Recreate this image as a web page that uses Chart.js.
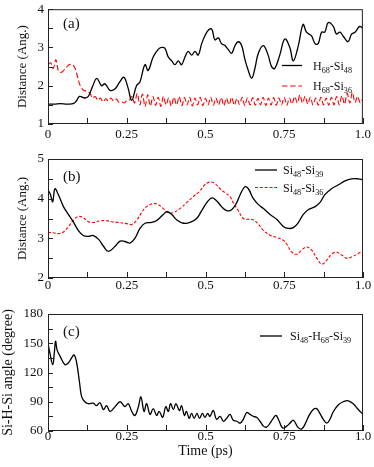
<!DOCTYPE html>
<html>
<head>
<meta charset="utf-8">
<script src="https://cdn.jsdelivr.net/npm/chart.js@4.4.1/dist/chart.umd.min.js"></script>
<style>
  html, body { margin: 0; padding: 0; background: #fff; }
  #wrap { position: relative; width: 374px; height: 467px; }
  #wrap canvas { position: absolute; left: 0; top: 0; }
</style>
</head>
<body>
<div id="wrap">
  <canvas id="chartA" width="374" height="467"></canvas>
  <canvas id="chartB" width="374" height="467"></canvas>
  <canvas id="chartC" width="374" height="467"></canvas>
</div>
<script>
const xTickLabels = ['0', '0.25', '0.5', '0.75', '1.0']

// panel (a): [time (ps), distance (Ang.)]
const h68si48 = [
  [0, 1.52], [0.02, 1.52], [0.04, 1.53], [0.06, 1.52], [0.08, 1.53], [0.09, 1.6], [0.1, 1.72],
  [0.117, 1.68], [0.128, 1.72], [0.14, 1.95], [0.155, 2.19], [0.17, 2.0], [0.181, 2.05],
  [0.197, 1.88], [0.213, 1.92], [0.228, 2.1], [0.241, 2.22], [0.254, 1.95], [0.266, 1.62],
  [0.281, 2.0], [0.292, 2.1], [0.308, 2.55], [0.318, 2.4], [0.334, 2.75], [0.35, 2.95],
  [0.361, 3.0], [0.371, 2.98], [0.382, 2.75], [0.393, 2.65], [0.403, 2.55], [0.414, 2.65],
  [0.424, 2.55], [0.435, 2.75], [0.445, 2.9], [0.456, 2.8], [0.467, 2.9], [0.477, 2.8],
  [0.488, 3.1], [0.498, 3.3], [0.509, 3.45], [0.52, 3.48], [0.53, 3.2], [0.541, 3.25],
  [0.551, 3.1], [0.562, 3.05], [0.572, 2.95], [0.583, 2.85], [0.594, 3.05], [0.604, 3.15],
  [0.615, 3.05], [0.625, 2.7], [0.636, 2.4], [0.647, 2.2], [0.657, 2.45], [0.668, 2.85],
  [0.684, 3.05], [0.699, 2.8], [0.71, 2.5], [0.72, 2.45], [0.736, 2.8], [0.752, 3.22],
  [0.768, 3.0], [0.779, 2.65], [0.795, 3.05], [0.81, 3.6], [0.821, 3.4], [0.837, 3.3],
  [0.848, 3.1], [0.858, 3.1], [0.869, 3.4], [0.879, 3.4], [0.89, 3.65], [0.906, 3.55],
  [0.916, 3.35], [0.927, 3.4], [0.937, 3.3], [0.953, 3.15], [0.964, 3.35], [0.975, 3.4],
  [0.99, 3.55], [1.0, 3.5]
]

// H68-Si36, one value every 1/120 ps
const h68si36Step = 1 / 120
const h68si36 = [
  2.55, 2.6, 2.45, 2.68, 2.38, 2.35, 2.4, 2.48, 2.55, 2.56, 2.5, 2.3, 2.05, 1.92, 1.87, 1.86,
  1.8, 1.68, 1.72, 1.62, 1.68, 1.58, 1.66, 1.6, 1.68, 1.6, 1.65, 1.57, 1.58, 1.55, 1.6, 1.62,
  1.72, 1.55, 1.8, 1.5, 1.78, 1.46, 1.76, 1.47, 1.72, 1.49, 1.7, 1.46, 1.72, 1.5, 1.68, 1.47,
  1.7, 1.5, 1.72, 1.48, 1.69, 1.5, 1.7, 1.47, 1.68, 1.5, 1.7, 1.48, 1.67, 1.5, 1.7, 1.49,
  1.68, 1.5, 1.69, 1.48, 1.68, 1.5, 1.7, 1.49, 1.67, 1.51, 1.7, 1.48, 1.68, 1.5, 1.69, 1.49,
  1.67, 1.5, 1.7, 1.48, 1.68, 1.5, 1.69, 1.49, 1.68, 1.5, 1.7, 1.49, 1.68, 1.52, 1.72, 1.55,
  1.76, 1.55, 1.73, 1.52, 1.7, 1.5, 1.68, 1.49, 1.7, 1.5, 1.68, 1.49, 1.7, 1.5, 1.72, 1.5,
  1.74, 1.52, 1.8, 1.55, 1.82, 1.56, 1.72, 1.55, 1.65
]

// panel (b)
const si48si39 = [
  [0, 4.22], [0.008, 4.1], [0.015, 3.92], [0.022, 4.25], [0.033, 4.1], [0.049, 3.8],
  [0.065, 3.6], [0.08, 3.42], [0.096, 3.2], [0.112, 3.07], [0.128, 3.05], [0.144, 3.07],
  [0.16, 2.98], [0.176, 2.8], [0.192, 2.67], [0.213, 2.8], [0.229, 2.93], [0.244, 2.92],
  [0.26, 2.88], [0.276, 3.0], [0.292, 3.25], [0.308, 3.38], [0.329, 3.4], [0.345, 3.45],
  [0.366, 3.6], [0.377, 3.67], [0.393, 3.6], [0.408, 3.47], [0.43, 3.38], [0.451, 3.4],
  [0.472, 3.5], [0.488, 3.7], [0.504, 3.9], [0.52, 4.02], [0.535, 3.95], [0.551, 3.8],
  [0.567, 3.7], [0.583, 3.72], [0.599, 3.9], [0.61, 4.1], [0.625, 4.3], [0.636, 4.25],
  [0.652, 4.0], [0.668, 3.85], [0.684, 3.75], [0.705, 3.6], [0.726, 3.48], [0.747, 3.3],
  [0.763, 3.25], [0.779, 3.27], [0.795, 3.4], [0.81, 3.6], [0.826, 3.72], [0.848, 3.8],
  [0.863, 3.9], [0.879, 4.1], [0.9, 4.25], [0.922, 4.35], [0.943, 4.45], [0.964, 4.5],
  [0.985, 4.5], [1.0, 4.48]
]
const si48si36 = [
  [0, 3.15], [0.017, 3.14], [0.033, 3.12], [0.049, 3.16], [0.065, 3.3], [0.08, 3.45],
  [0.096, 3.55], [0.112, 3.52], [0.128, 3.42], [0.144, 3.4], [0.165, 3.44], [0.181, 3.45],
  [0.202, 3.42], [0.223, 3.4], [0.25, 3.37], [0.266, 3.35], [0.281, 3.45], [0.297, 3.65],
  [0.313, 3.8], [0.334, 3.88], [0.35, 3.85], [0.366, 3.75], [0.382, 3.65], [0.398, 3.65],
  [0.419, 3.75], [0.44, 3.9], [0.461, 4.05], [0.483, 4.2], [0.498, 4.35], [0.514, 4.42],
  [0.53, 4.38], [0.546, 4.25], [0.562, 4.15], [0.578, 4.05], [0.588, 3.9], [0.604, 3.7],
  [0.62, 3.5], [0.636, 3.48], [0.652, 3.47], [0.668, 3.35], [0.684, 3.2], [0.705, 3.08],
  [0.726, 3.02], [0.747, 2.95], [0.758, 2.85], [0.774, 2.65], [0.79, 2.6], [0.805, 2.7],
  [0.821, 2.78], [0.837, 2.7], [0.853, 2.5], [0.869, 2.35], [0.885, 2.45], [0.9, 2.6],
  [0.916, 2.65], [0.932, 2.58], [0.948, 2.5], [0.969, 2.55], [0.985, 2.62], [1.0, 2.68]
]

// panel (c): [time (ps), angle (degree)]
const siHSiAngle = [
  [0, 150], [0.006, 140], [0.015, 128], [0.02, 140], [0.024, 152], [0.029, 143], [0.038, 137],
  [0.054, 128], [0.065, 130], [0.075, 135], [0.083, 138], [0.091, 130], [0.1, 110], [0.107, 95],
  [0.117, 90], [0.128, 88], [0.144, 88.5], [0.154, 86], [0.165, 89], [0.176, 82], [0.186, 86],
  [0.197, 80], [0.213, 85], [0.229, 90], [0.244, 85], [0.255, 88], [0.266, 80], [0.276, 76],
  [0.287, 85], [0.295, 95], [0.305, 80], [0.313, 88], [0.324, 77], [0.334, 83], [0.345, 76],
  [0.353, 80], [0.364, 74], [0.374, 85], [0.382, 80], [0.389, 88], [0.398, 82], [0.406, 88],
  [0.417, 81], [0.424, 86], [0.433, 76], [0.44, 80], [0.448, 73], [0.456, 78], [0.464, 73],
  [0.473, 78], [0.481, 73], [0.49, 78], [0.498, 74], [0.507, 78], [0.514, 75], [0.525, 81],
  [0.535, 72], [0.546, 75], [0.557, 70], [0.567, 73], [0.578, 77], [0.588, 71], [0.599, 70],
  [0.61, 68], [0.62, 72], [0.631, 79], [0.641, 77], [0.652, 75], [0.662, 74], [0.673, 70],
  [0.684, 65], [0.694, 64], [0.705, 68], [0.715, 73], [0.724, 76], [0.734, 70], [0.745, 63],
  [0.758, 65], [0.768, 68], [0.779, 71], [0.793, 64], [0.805, 62], [0.816, 67], [0.829, 76],
  [0.842, 82], [0.853, 83], [0.863, 78], [0.874, 72], [0.885, 68], [0.895, 72], [0.906, 80],
  [0.922, 87], [0.937, 90], [0.953, 91], [0.969, 88], [0.985, 82], [1.0, 77]
]

const serif = '"Liberation Serif", "Times New Roman", serif'
const ink = '#111'

// "Si_48-H_68" -> Si with subscript 48, etc.
function drawSubText(ctx, text, x, y, size) {
  const parts = text.split(/_(\d+)/)
  parts.forEach((p, i) => {
    if (!p) return
    const sub = i % 2 === 1
    ctx.font = (sub ? size * 0.68 : size) + 'px ' + serif
    ctx.fillText(p, x, sub ? y + 3 : y)
    x += ctx.measureText(p).width
  })
}

// frame, inward ticks, legend and panel tag
const panelDeco = {
  id: 'panelDeco',
  afterDatasetsDraw(chart, args, opts) {
    const { ctx, chartArea: a, scales: { x, y } } = chart
    ctx.save()
    ctx.strokeStyle = '#222'
    ctx.lineWidth = 1
    ctx.strokeRect(a.left + 0.5, a.top + 0.5, a.right - a.left - 1, a.bottom - a.top - 1)

    ctx.beginPath()
    for (let v = x.min; v <= x.max + 1e-9; v += opts.xMinor) {
      const px = Math.round(x.getPixelForValue(v)) + 0.5
      ctx.moveTo(px, a.bottom)
      ctx.lineTo(px, a.bottom - 6)
    }
    for (let v = y.min; v <= y.max + 1e-9; v += opts.yMinor) {
      const py = Math.round(y.getPixelForValue(v)) + 0.5
      ctx.moveTo(a.left, py)
      ctx.lineTo(a.left + 5, py)
    }
    ctx.stroke()

    chart.data.datasets.forEach((ds, i) => {
      const ly = opts.legendY[i]
      ctx.strokeStyle = ds.borderColor
      ctx.lineWidth = ds.borderWidth
      ctx.setLineDash(ds.borderDash || [])
      ctx.beginPath()
      ctx.moveTo(opts.legendX[0], ly)
      ctx.lineTo(opts.legendX[1], ly)
      ctx.stroke()
      ctx.setLineDash([])
      ctx.fillStyle = ink
      ctx.textBaseline = 'alphabetic'
      drawSubText(ctx, ds.label, opts.textX, ly + 4, 12)
    })

    ctx.fillStyle = ink
    ctx.font = '15px ' + serif
    ctx.textBaseline = 'middle'
    ctx.fillText(opts.tag, opts.tagX, opts.tagY)
    ctx.restore()
  }
}

function makePanel(id, datasets, cfg) {
  new Chart(document.getElementById(id), {
    type: 'line',
    data: { datasets },
    options: {
      responsive: false,
      animation: false,
      events: [],
      layout: { padding: cfg.padding },
      elements: { point: { radius: 0 }, line: { tension: 0.4 } },
      plugins: {
        legend: { display: false },
        tooltip: { enabled: false },
        panelDeco: cfg.deco
      },
      scales: {
        x: {
          type: 'linear', min: 0, max: 1,
          grid: { display: false, drawTicks: false }, border: { display: false },
          ticks: {
            stepSize: 0.25, maxRotation: 0, padding: cfg.xPad, color: ink,
            font: { family: serif, size: 13 },
            callback: (v) => xTickLabels[Math.round(v * 4)]
          },
          title: cfg.xTitle
            ? { display: true, text: cfg.xTitle, color: ink, font: { family: serif, size: 14 }, padding: { top: 0, bottom: 5 } }
            : { display: false },
          afterFit: (s) => { s.height = cfg.xHeight }
        },
        y: {
          min: cfg.yMin, max: cfg.yMax,
          grid: { display: false, drawTicks: false }, border: { display: false },
          ticks: {
            stepSize: cfg.yStep, padding: cfg.yPad, color: ink,
            font: { family: serif, size: 13, lineHeight: 0.8 }
          },
          title: {
            display: true, text: cfg.yTitle, color: ink,
            font: { family: serif, size: cfg.yTitleSize },
            padding: { top: cfg.yTitlePad, bottom: 0 }
          },
          afterFit: (s) => { s.width = 48 }
        }
      }
    },
    plugins: [panelDeco]
  })
}

makePanel('chartA', [
  { label: 'H_68-Si_48', data: h68si48, borderColor: '#000', borderWidth: 1.3 },
  { label: 'H_68-Si_36', data: h68si36.map((v, i) => [i * h68si36Step, v]),
    borderColor: '#f00', borderWidth: 1.1, borderDash: [5.5, 2.7], tension: 0.35 }
], {
  padding: { top: 6, right: 11, bottom: 319, left: 0 },
  xPad: 3, xHeight: 24, yMin: 1, yMax: 4, yStep: 1, yPad: 4,
  yTitle: 'Distance (Ang.)', yTitleSize: 13, yTitlePad: 15,
  deco: { xMinor: 0.125, yMinor: 0.5, legendX: [282, 302], legendY: [65.5, 86], textX: 313, tag: '(a)', tagX: 63, tagY: 24 }
})

makePanel('chartB', [
  { label: 'Si_48-Si_39', data: si48si39, borderColor: '#000', borderWidth: 1.3 },
  { label: 'Si_48-Si_36', data: si48si36, borderColor: '#f00', borderWidth: 1.1, borderDash: [3, 1.8] }
], {
  padding: { top: 159, right: 11, bottom: 165, left: 0 },
  xPad: 0, xHeight: 24, yMin: 2, yMax: 5, yStep: 1, yPad: 4,
  yTitle: 'Distance (Ang.)', yTitleSize: 13, yTitlePad: 15,
  deco: { xMinor: 0.125, yMinor: 0.5, legendX: [255, 277], legendY: [170, 187.5], textX: 283, tag: '(b)', tagX: 63, tagY: 177.5 }
})

makePanel('chartC', [
  { label: 'Si_48-H_68-Si_39', data: siHSiAngle, borderColor: '#000', borderWidth: 1.3 }
], {
  padding: { top: 314, right: 11, bottom: 2, left: 0 },
  xPad: -2, xHeight: 34, xTitle: 'Time (ps)', yMin: 60, yMax: 180, yStep: 30, yPad: 5,
  yTitle: 'Si-H-Si angle (degree)', yTitleSize: 14, yTitlePad: 0,
  deco: { xMinor: 0.125, yMinor: 15, legendX: [260, 282], legendY: [336], textX: 290, tag: '(c)', tagX: 63, tagY: 332 }
})
</script>
</body>
</html>
